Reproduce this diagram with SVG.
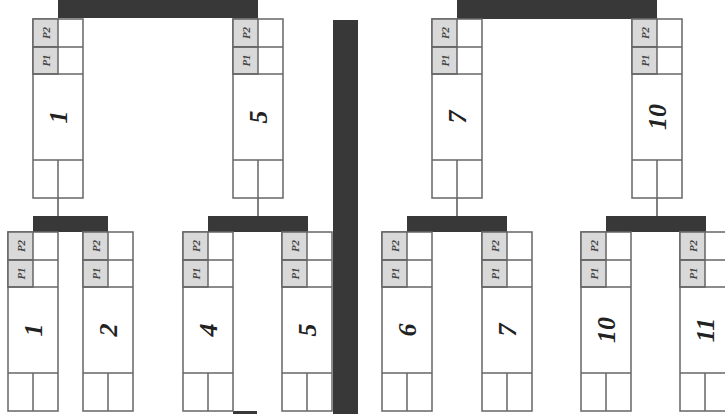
<svg xmlns="http://www.w3.org/2000/svg" xmlns:xlink="http://www.w3.org/1999/xlink" width="725" height="414" viewBox="0 0 725 414">
<style>
.box{fill:#fff;stroke:#666;stroke-width:1.5}
.ln{stroke:#666;stroke-width:1.5;fill:none}
.grey{fill:#d9d9d9;stroke:#666;stroke-width:1.5}
.bar{fill:#383838}
.conn{stroke:#555;stroke-width:1.5}
.pl{font-family:"Liberation Serif",serif;font-style:italic;font-weight:bold;font-size:11px;fill:#444;text-anchor:middle;dominant-baseline:central}
.num{font-family:"Liberation Serif",serif;font-style:italic;font-weight:bold;font-size:26px;fill:#222;text-anchor:middle;dominant-baseline:central}
</style>
<defs>
<g id="cell">
<rect class="box" x="0" y="0" width="50" height="179"/>
<rect class="grey" x="0" y="0" width="25" height="28"/>
<rect class="grey" x="0" y="28" width="25" height="27"/>
<line class="ln" x1="0" y1="28" x2="50" y2="28"/>
<line class="ln" x1="0" y1="55" x2="50" y2="55"/>
<line class="ln" x1="0" y1="141" x2="50" y2="141"/>
<line class="ln" x1="25" y1="141" x2="25" y2="179"/>
<text class="pl" transform="translate(12.5,14) rotate(-90)">P2</text>
<text class="pl" transform="translate(12.5,41.5) rotate(-90)">P1</text>
</g>
</defs>
<rect width="725" height="414" fill="#fff"/>
<g id="connectors">
<rect class="bar" x="58" y="0" width="200" height="18"/>
<rect class="bar" x="457" y="0" width="200" height="19"/>
<rect class="bar" x="33" y="216" width="75" height="16"/>
<rect class="bar" x="208" y="216" width="100" height="16"/>
<rect class="bar" x="407" y="216" width="100" height="16"/>
<rect class="bar" x="606" y="216" width="100" height="16"/>
<rect class="bar" x="233" y="411" width="24" height="3"/>
<line class="conn" x1="58" y1="198" x2="58" y2="216"/>
<line class="conn" x1="258" y1="198" x2="258" y2="216"/>
<line class="conn" x1="457" y1="198" x2="457" y2="216"/>
<line class="conn" x1="657" y1="198" x2="657" y2="216"/>
</g>
<rect id="divider" class="bar" x="333" y="20" width="25" height="394"/>
<g id="top-1" transform="translate(33,19)"><use xlink:href="#cell"/><text class="num" transform="translate(25,98) rotate(-90)">1</text></g>
<g id="top-5" transform="translate(233,19)"><use xlink:href="#cell"/><text class="num" transform="translate(25,98) rotate(-90)">5</text></g>
<g id="top-7" transform="translate(432,19)"><use xlink:href="#cell"/><text class="num" transform="translate(25,98) rotate(-90)">7</text></g>
<g id="top-10" transform="translate(632,19)"><use xlink:href="#cell"/><text class="num" transform="translate(25,98) rotate(-90)">10</text></g>
<g id="bot-1" transform="translate(8,232)"><use xlink:href="#cell"/><text class="num" transform="translate(25,98) rotate(-90)">1</text></g>
<g id="bot-2" transform="translate(83,232)"><use xlink:href="#cell"/><text class="num" transform="translate(25,98) rotate(-90)">2</text></g>
<g id="bot-4" transform="translate(183,232)"><use xlink:href="#cell"/><text class="num" transform="translate(25,98) rotate(-90)">4</text></g>
<g id="bot-5" transform="translate(282,232)"><use xlink:href="#cell"/><text class="num" transform="translate(25,98) rotate(-90)">5</text></g>
<g id="bot-6" transform="translate(382,232)"><use xlink:href="#cell"/><text class="num" transform="translate(25,98) rotate(-90)">6</text></g>
<g id="bot-7" transform="translate(482,232)"><use xlink:href="#cell"/><text class="num" transform="translate(25,98) rotate(-90)">7</text></g>
<g id="bot-10" transform="translate(581,232)"><use xlink:href="#cell"/><text class="num" transform="translate(25,98) rotate(-90)">10</text></g>
<g id="bot-11" transform="translate(680,232)"><use xlink:href="#cell"/><text class="num" transform="translate(25,98) rotate(-90)">11</text></g>
</svg>
